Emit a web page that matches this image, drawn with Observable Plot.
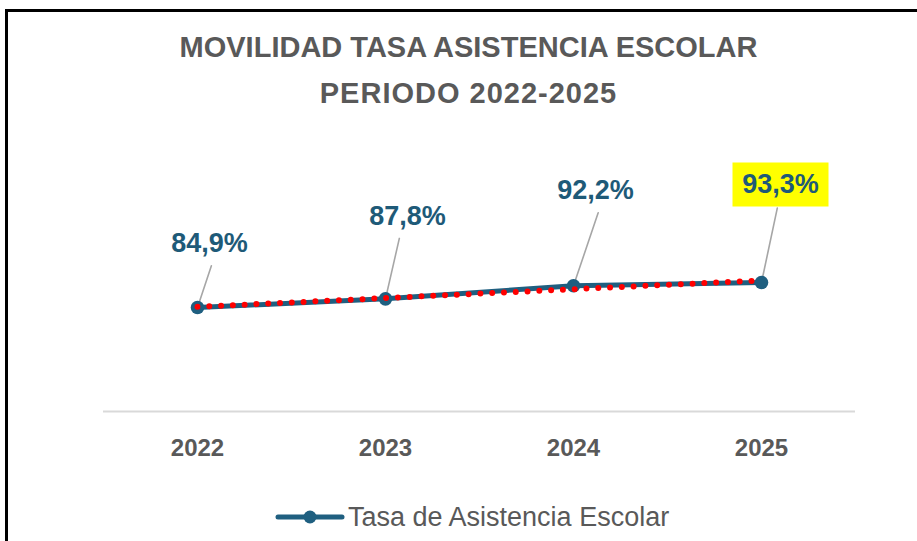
<!DOCTYPE html>
<html>
<head>
<meta charset="utf-8">
<script src="https://cdn.jsdelivr.net/npm/d3@7"></script>
<script src="https://cdn.jsdelivr.net/npm/@observablehq/plot@0.6"></script>
<style>
  html, body { margin: 0; padding: 0; background: #fff; }
  #wrap { position: relative; width: 917px; height: 541px; overflow: hidden; background: #fff;
          font-family: "Liberation Sans", Arial, sans-serif; }
  #frame { position: absolute; left: 5px; top: 9px; width: 940px; height: 600px;
           border-top: 3px solid #000; border-left: 3px solid #000; box-sizing: border-box; }
  .title { position: absolute; left: 5px; width: 927px; text-align: center; font-size: 29px;
           line-height: 28px; font-weight: bold; color: #595959; white-space: nowrap; }
  #chart { position: absolute; left: 0; top: 120px; }
  #legend { position: absolute; left: 275px; top: 497px; height: 40px; display: flex; align-items: center; }
  #legend span { font-size: 27px; color: #595959; margin-left: 3px; }
</style>
</head>
<body>
<div id="wrap">
  <div id="frame"></div>
  <div class="title" style="top:33px">MOVILIDAD TASA ASISTENCIA ESCOLAR</div>
  <div class="title" style="top:79px; letter-spacing:1px">PERIODO 2022-2025</div>
  <div id="chart"></div>
  <div id="legend"><svg width="70" height="20"><line x1="3" y1="10" x2="67" y2="10" stroke="#1f5f80" stroke-width="5" stroke-linecap="round"/><circle cx="35" cy="10" r="6.5" fill="#1f5f80"/></svg><span>Tasa de Asistencia Escolar</span></div>
</div>
<script>
// ---- data ----
const years = [2022, 2023, 2024, 2025];
const values = [84.9, 87.8, 92.2, 93.3];
const labels = ["84,9%", "87,8%", "92,2%", "93,3%"];
const yearTicks = [2022, 2023, 2024, 2025];
const seriesName = "Tasa de Asistencia Escolar";

const rows = years.map((year, i) => ({year, value: values[i], label: labels[i]}));

// ---- label layout (pixel offsets from each point) ----
const labelLayout = [
  {dx: 12, dy: -55, len: 44, rot: 18.4},
  {dx: 22, dy: -74, len: 62, rot: 12.9},
  {dx: 22, dy: -87, len: 77, rot: 18.7},
  {dx: 19, dy: -89, len: 76, rot: 12.0}
];
const highlightIndex = 3;

const lineColor = "#1f5f80";
const labelColor = "#1e5a78";

const leaderShape = {draw(context, l) { context.moveTo(0, 0); context.lineTo(0, -l); }};
const boxSymbol = {draw(context) { context.rect(-48, -22, 96, 44); }};

const marks = [
  Plot.ruleY([50], {stroke: "#d9d9d9", strokeWidth: 2})
];
rows.forEach((r, i) => {
  const L = labelLayout[i];
  marks.push(Plot.vector([r], {x: "year", y: "value", length: L.len, rotate: L.rot, anchor: "start",
    shape: leaderShape, stroke: "#a6a6a6", strokeWidth: 1.6}));
});
marks.push(
  Plot.line(rows, {x: "year", y: "value", stroke: lineColor, strokeWidth: 5}),
  Plot.dot(rows, {x: "year", y: "value", r: 6.8, fill: lineColor}),
  Plot.linearRegressionY(rows, {x: "year", y: "value", ci: 0, stroke: "#ff0000", strokeWidth: 6,
    strokeDasharray: "0 11.8", strokeLinecap: "round"}),
  Plot.dot([rows[highlightIndex]], {x: "year", y: "value", symbol: boxSymbol, r: 1, fill: "#ffff00",
    dx: 19, dy: -98})
);
rows.forEach((r, i) => {
  const L = labelLayout[i];
  marks.push(Plot.text([r], {x: "year", y: "value", text: "label", dx: L.dx, dy: L.dy,
    lineAnchor: "bottom", textAnchor: "middle", fill: labelColor, fontSize: 27, fontWeight: "bold"}));
});
marks.push(
  Plot.axisX(yearTicks, {tickSize: 0, tickPadding: 27, tickFormat: d => String(d), fontSize: 24,
    fontWeight: "bold", fill: "#595959", label: null})
);

const plot = Plot.plot({
  width: 917,
  height: 360,
  marginLeft: 103,
  marginRight: 62,
  marginTop: 142,
  marginBottom: 69,
  style: {fontFamily: '"Liberation Sans", Arial, sans-serif', background: "transparent", overflow: "visible"},
  x: {domain: [2021.5, 2025.5], axis: null},
  y: {domain: [50, 100], axis: null},
  marks
});
document.getElementById("chart").appendChild(plot);
</script>
</body>
</html>
